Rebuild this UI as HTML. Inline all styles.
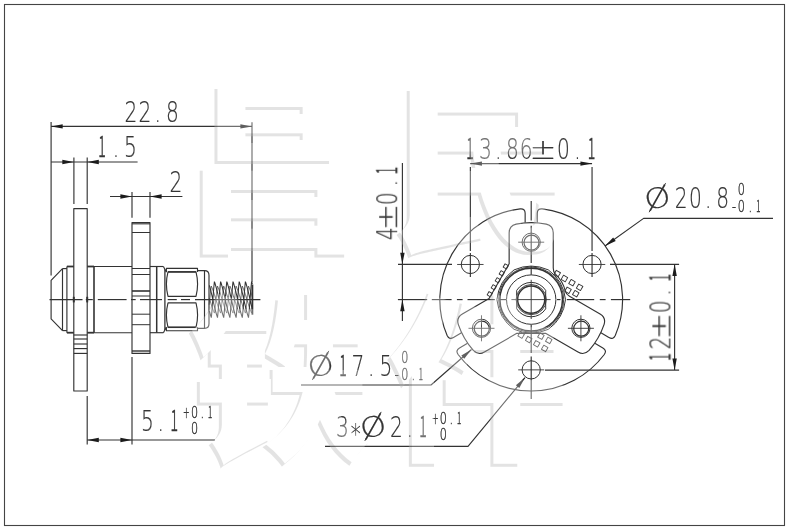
<!DOCTYPE html>
<html lang="zh"><head><meta charset="utf-8"><title>drawing</title>
<style>
html,body{margin:0;padding:0;background:#fff;}
body{width:790px;height:530px;overflow:hidden;}
svg{display:block;}
.t{font-kerning:none;}
.one{font-family:'Noto Sans CJK SC','Liberation Sans',sans-serif;font-weight:300;stroke-width:0.55px;}
</style></head><body>
<svg width="790" height="530" viewBox="0 0 790 530">
<rect x="0" y="0" width="790" height="530" fill="#fff"/>
<rect x="4.5" y="4.5" width="780" height="521" fill="none" stroke="#444" stroke-width="1.1"/>
<g fill="none" stroke="#333" stroke-linecap="butt" stroke-linejoin="round">
<line x1="51.10" y1="121.90" x2="51.10" y2="275.50" stroke-width="1.15" />
<line x1="252.00" y1="122.20" x2="252.00" y2="282.00" stroke-width="1.15" />
<line x1="51.10" y1="126.40" x2="252.00" y2="126.40" stroke-width="1.15" />
<polygon points="51.10,126.40 62.70,124.20 62.70,128.60" fill="#1c1c1c" stroke="none"/>
<polygon points="252.00,126.40 240.40,128.60 240.40,124.20" fill="#1c1c1c" stroke="none"/>
<line x1="73.90" y1="157.60" x2="73.90" y2="204.00" stroke-width="1.15" />
<line x1="87.20" y1="157.60" x2="87.20" y2="204.00" stroke-width="1.15" />
<line x1="51.10" y1="162.00" x2="137.60" y2="162.00" stroke-width="1.15" />
<polygon points="73.90,162.00 62.30,164.20 62.30,159.80" fill="#1c1c1c" stroke="none"/>
<polygon points="87.20,162.00 98.80,159.80 98.80,164.20" fill="#1c1c1c" stroke="none"/>
<line x1="132.00" y1="192.00" x2="132.00" y2="217.80" stroke-width="1.15" />
<line x1="150.00" y1="192.00" x2="150.00" y2="217.80" stroke-width="1.15" />
<line x1="110.00" y1="196.50" x2="182.40" y2="196.50" stroke-width="1.15" />
<polygon points="132.00,196.50 120.40,198.70 120.40,194.30" fill="#1c1c1c" stroke="none"/>
<polygon points="150.00,196.50 161.60,194.30 161.60,198.70" fill="#1c1c1c" stroke="none"/>
<path d="M73.8 391 V208.6 H87.2 V391 Z" stroke-width="1.15" />
<line x1="73.80" y1="335.00" x2="87.20" y2="335.00" stroke-width="1.15" />
<line x1="73.80" y1="339.00" x2="87.20" y2="339.00" stroke-width="1.15" />
<line x1="73.80" y1="344.00" x2="87.20" y2="344.00" stroke-width="1.15" />
<line x1="73.80" y1="348.60" x2="87.20" y2="348.60" stroke-width="1.15" />
<line x1="73.80" y1="353.40" x2="87.20" y2="353.40" stroke-width="1.15" />
<path d="M62.5 268.6 L51.1 280.3 V318.9 L62.5 330.6" stroke-width="1.15" />
<line x1="62.50" y1="268.60" x2="66.90" y2="268.60" stroke-width="1.15" />
<line x1="62.50" y1="330.60" x2="66.90" y2="330.60" stroke-width="1.15" />
<line x1="62.50" y1="268.60" x2="62.50" y2="330.60" stroke-width="1.15" />
<line x1="66.90" y1="266.50" x2="66.90" y2="332.70" stroke-width="1.15" />
<line x1="66.90" y1="266.50" x2="73.80" y2="266.50" stroke-width="1.8" />
<line x1="66.90" y1="332.70" x2="73.80" y2="332.70" stroke-width="1.8" />
<line x1="87.20" y1="266.50" x2="94.00" y2="266.50" stroke-width="1.8" />
<line x1="87.20" y1="332.70" x2="94.00" y2="332.70" stroke-width="1.8" />
<line x1="94.00" y1="266.50" x2="94.00" y2="332.70" stroke-width="1.6" />
<line x1="73.80" y1="296.80" x2="73.80" y2="302.40" stroke-width="2" />
<line x1="87.20" y1="296.80" x2="87.20" y2="302.40" stroke-width="2" />
<line x1="94.00" y1="266.50" x2="132.00" y2="266.50" stroke-width="1.15" />
<line x1="94.00" y1="332.70" x2="132.00" y2="332.70" stroke-width="1.15" />
<line x1="150.00" y1="266.50" x2="163.40" y2="266.50" stroke-width="1.15" />
<line x1="150.00" y1="332.70" x2="163.40" y2="332.70" stroke-width="1.15" />
<line x1="156.70" y1="266.50" x2="156.70" y2="332.70" stroke-width="1.5" />
<line x1="164.90" y1="269.30" x2="164.90" y2="329.90" stroke-width="1.3" />
<line x1="163.40" y1="266.50" x2="166.40" y2="272.20" stroke-width="1.15" />
<line x1="163.40" y1="332.70" x2="166.40" y2="327.00" stroke-width="1.15" />
<path d="M132 222.5 H150 V353.4 H132 Z" stroke-width="1.15" />
<line x1="132.00" y1="223.80" x2="150.00" y2="223.80" stroke-width="1.15" />
<line x1="132.00" y1="351.00" x2="150.00" y2="351.00" stroke-width="1.4" />
<line x1="132.00" y1="232.50" x2="150.00" y2="232.50" stroke-width="1" />
<line x1="132.00" y1="268.50" x2="150.00" y2="268.50" stroke-width="1" />
<line x1="132.00" y1="274.50" x2="150.00" y2="274.50" stroke-width="1" />
<line x1="132.00" y1="291.00" x2="150.00" y2="291.00" stroke-width="1.6" />
<line x1="132.00" y1="296.00" x2="150.00" y2="296.00" stroke-width="1" />
<line x1="132.00" y1="314.20" x2="150.00" y2="314.20" stroke-width="1" />
<line x1="132.00" y1="324.70" x2="150.00" y2="324.70" stroke-width="1" />
<path d="M166.4 272 V268.4 H197.5 V272" stroke-width="1.15" />
<path d="M166.4 327.2 V330.7 H197.5 V327.2" stroke-width="1.15" />
<path d="M168 271.9 H196 Q199.2 284.15 196 296.4 H168 Q164.8 284.15 168 271.9 Z" stroke-width="1.15" />
<path d="M168 302.8 H196 Q199.2 315.05 196 327.3 H168 Q164.8 315.05 168 302.8 Z" stroke-width="1.15" />
<line x1="168.00" y1="271.90" x2="196.00" y2="271.90" stroke-width="1.5" />
<line x1="168.00" y1="327.30" x2="196.00" y2="327.30" stroke-width="1.5" />
<path d="M197.6 270.6 H204.5 Q209 270.6 209 275.2 V323.8 Q209 328.4 204.5 328.4 H197.6" stroke-width="1.15" />
<line x1="204.50" y1="270.60" x2="204.50" y2="328.40" stroke-width="1.15" />
<path d="M209.36,311.05 L209.75,312.50 L210.14,313.88 L210.53,315.20 L210.91,316.44 L211.30,317.60 M209.36,285.32 L209.75,286.70 L210.14,288.15 L210.53,289.67 L210.91,291.24 L211.30,292.85 L211.69,294.50 L212.08,296.19 L212.46,297.89 L212.85,299.60 L213.24,301.31 L213.63,303.01 L214.01,304.70 L214.40,306.35 L214.79,307.96 L215.18,309.53 L215.56,311.05 L215.95,312.50 L216.34,313.88 L216.73,315.20 L217.11,316.44 L217.50,317.60 M214.40,281.60 L214.27,282.76 L214.14,284.00 L214.01,285.32 L213.88,286.70 L213.75,288.15 L213.62,289.67 L213.50,291.24 L213.37,292.85 L213.24,294.50 L213.11,296.19 L212.98,297.89 L212.85,299.60 L212.72,301.31 L212.59,303.01 L212.46,304.70 L212.33,306.35 L212.20,307.96 L212.08,309.53 L211.95,311.05 L211.82,312.50 L211.69,313.88 L211.56,315.20 L211.43,316.44 L211.30,317.60 M214.40,281.60 L214.79,282.76 L215.18,284.00 L215.56,285.32 L215.95,286.70 L216.34,288.15 L216.72,289.67 L217.11,291.24 L217.50,292.85 L217.89,294.50 L218.28,296.19 L218.66,297.89 L219.05,299.60 L219.44,301.31 L219.83,303.01 L220.21,304.70 L220.60,306.35 L220.99,307.96 L221.38,309.53 L221.76,311.05 L222.15,312.50 L222.54,313.88 L222.93,315.20 L223.31,316.44 L223.70,317.60 M220.60,281.60 L220.47,282.76 L220.34,284.00 L220.21,285.32 L220.08,286.70 L219.95,288.15 L219.82,289.67 L219.70,291.24 L219.57,292.85 L219.44,294.50 L219.31,296.19 L219.18,297.89 L219.05,299.60 L218.92,301.31 L218.79,303.01 L218.66,304.70 L218.53,306.35 L218.40,307.96 L218.28,309.53 L218.15,311.05 L218.02,312.50 L217.89,313.88 L217.76,315.20 L217.63,316.44 L217.50,317.60 M220.60,281.60 L220.99,282.76 L221.38,284.00 L221.76,285.32 L222.15,286.70 L222.54,288.15 L222.92,289.67 L223.31,291.24 L223.70,292.85 L224.09,294.50 L224.47,296.19 L224.86,297.89 L225.25,299.60 L225.64,301.31 L226.03,303.01 L226.41,304.70 L226.80,306.35 L227.19,307.96 L227.57,309.53 L227.96,311.05 L228.35,312.50 L228.74,313.88 L229.12,315.20 L229.51,316.44 L229.90,317.60 M226.80,281.60 L226.67,282.76 L226.54,284.00 L226.41,285.32 L226.28,286.70 L226.15,288.15 L226.03,289.67 L225.90,291.24 L225.77,292.85 L225.64,294.50 L225.51,296.19 L225.38,297.89 L225.25,299.60 L225.12,301.31 L224.99,303.01 L224.86,304.70 L224.73,306.35 L224.60,307.96 L224.48,309.53 L224.35,311.05 L224.22,312.50 L224.09,313.88 L223.96,315.20 L223.83,316.44 L223.70,317.60 M226.80,281.60 L227.19,282.76 L227.58,284.00 L227.96,285.32 L228.35,286.70 L228.74,288.15 L229.12,289.67 L229.51,291.24 L229.90,292.85 L230.29,294.50 L230.68,296.19 L231.06,297.89 L231.45,299.60 L231.84,301.31 L232.23,303.01 L232.61,304.70 L233.00,306.35 L233.39,307.96 L233.78,309.53 L234.16,311.05 L234.55,312.50 L234.94,313.88 L235.33,315.20 L235.71,316.44 L236.10,317.60 M233.00,281.60 L232.87,282.76 L232.74,284.00 L232.61,285.32 L232.48,286.70 L232.35,288.15 L232.22,289.67 L232.10,291.24 L231.97,292.85 L231.84,294.50 L231.71,296.19 L231.58,297.89 L231.45,299.60 L231.32,301.31 L231.19,303.01 L231.06,304.70 L230.93,306.35 L230.80,307.96 L230.68,309.53 L230.55,311.05 L230.42,312.50 L230.29,313.88 L230.16,315.20 L230.03,316.44 L229.90,317.60 M233.00,281.60 L233.39,282.76 L233.78,284.00 L234.16,285.32 L234.55,286.70 L234.94,288.15 L235.32,289.67 L235.71,291.24 L236.10,292.85 L236.49,294.50 L236.88,296.19 L237.26,297.89 L237.65,299.60 L238.04,301.31 L238.43,303.01 L238.81,304.70 L239.20,306.35 L239.59,307.96 L239.97,309.53 L240.36,311.05 L240.75,312.50 L241.14,313.88 L241.53,315.20 L241.91,316.44 L242.30,317.60 M239.20,281.60 L239.07,282.76 L238.94,284.00 L238.81,285.32 L238.68,286.70 L238.55,288.15 L238.43,289.67 L238.30,291.24 L238.17,292.85 L238.04,294.50 L237.91,296.19 L237.78,297.89 L237.65,299.60 L237.52,301.31 L237.39,303.01 L237.26,304.70 L237.13,306.35 L237.00,307.96 L236.88,309.53 L236.75,311.05 L236.62,312.50 L236.49,313.88 L236.36,315.20 L236.23,316.44 L236.10,317.60 M239.20,281.60 L239.59,282.76 L239.98,284.00 L240.36,285.32 L240.75,286.70 L241.14,288.15 L241.53,289.67 L241.91,291.24 L242.30,292.85 L242.69,294.50 L243.08,296.19 L243.46,297.89 L243.85,299.60 L244.24,301.31 L244.63,303.01 L245.01,304.70 L245.40,306.35 L245.79,307.96 L246.18,309.53 L246.56,311.05 L246.95,312.50 L247.34,313.88 L247.73,315.20 L248.11,316.44 L248.50,317.60 M245.40,281.60 L245.27,282.76 L245.14,284.00 L245.01,285.32 L244.88,286.70 L244.75,288.15 L244.62,289.67 L244.50,291.24 L244.37,292.85 L244.24,294.50 L244.11,296.19 L243.98,297.89 L243.85,299.60 L243.72,301.31 L243.59,303.01 L243.46,304.70 L243.33,306.35 L243.20,307.96 L243.08,309.53 L242.95,311.05 L242.82,312.50 L242.69,313.88 L242.56,315.20 L242.43,316.44 L242.30,317.60 M245.40,281.60 L245.79,282.76 L246.18,284.00 L246.56,285.32 L246.95,286.70 L247.34,288.15 L247.72,289.67 L248.11,291.24 L248.50,292.85 L248.89,294.50 L249.28,296.19 L249.66,297.89 L250.05,299.60 L250.44,301.31 L250.83,303.01 L251.21,304.70 L251.60,306.35 L251.99,307.96 L252.38,309.53 M251.60,281.60 L251.47,282.76 L251.34,284.00 L251.21,285.32 L251.08,286.70 L250.95,288.15 L250.83,289.67 L250.70,291.24 L250.57,292.85 L250.44,294.50 L250.31,296.19 L250.18,297.89 L250.05,299.60 L249.92,301.31 L249.79,303.01 L249.66,304.70 L249.53,306.35 L249.40,307.96 L249.28,309.53 L249.15,311.05 L249.02,312.50 L248.89,313.88 L248.76,315.20 L248.63,316.44 L248.50,317.60 M251.60,281.60 L251.99,282.76 L252.38,284.00 " stroke-width="1.05" />
<path d="M209.36,298.32 L209.75,299.60 L210.14,300.88 L210.53,302.16 L210.91,303.42 L211.30,304.66 L211.69,305.87 L212.07,307.05 L212.46,308.18 L212.85,309.27 L213.24,310.31 L213.62,311.30 L214.01,312.23 L214.40,313.10 M211.30,286.10 L211.17,286.97 L211.04,287.90 L210.91,288.89 L210.78,289.93 L210.65,291.02 L210.53,292.15 L210.40,293.33 L210.27,294.54 L210.14,295.78 L210.01,297.04 L209.88,298.32 L209.75,299.60 L209.62,300.88 L209.49,302.16 L209.36,303.42 L209.23,304.66 M211.30,286.10 L211.69,286.97 L212.08,287.90 L212.46,288.89 L212.85,289.93 L213.24,291.02 L213.62,292.15 L214.01,293.33 L214.40,294.54 L214.79,295.78 L215.18,297.04 L215.56,298.32 L215.95,299.60 L216.34,300.88 L216.73,302.16 L217.11,303.42 L217.50,304.66 L217.89,305.87 L218.28,307.05 L218.66,308.18 L219.05,309.27 L219.44,310.31 L219.83,311.30 L220.21,312.23 L220.60,313.10 M217.50,286.10 L217.37,286.97 L217.24,287.90 L217.11,288.89 L216.98,289.93 L216.85,291.02 L216.72,292.15 L216.60,293.33 L216.47,294.54 L216.34,295.78 L216.21,297.04 L216.08,298.32 L215.95,299.60 L215.82,300.88 L215.69,302.16 L215.56,303.42 L215.43,304.66 L215.30,305.87 L215.18,307.05 L215.05,308.18 L214.92,309.27 L214.79,310.31 L214.66,311.30 L214.53,312.23 L214.40,313.10 M217.50,286.10 L217.89,286.97 L218.28,287.90 L218.66,288.89 L219.05,289.93 L219.44,291.02 L219.82,292.15 L220.21,293.33 L220.60,294.54 L220.99,295.78 L221.38,297.04 L221.76,298.32 L222.15,299.60 L222.54,300.88 L222.93,302.16 L223.31,303.42 L223.70,304.66 L224.09,305.87 L224.47,307.05 L224.86,308.18 L225.25,309.27 L225.64,310.31 L226.03,311.30 L226.41,312.23 L226.80,313.10 M223.70,286.10 L223.57,286.97 L223.44,287.90 L223.31,288.89 L223.18,289.93 L223.05,291.02 L222.92,292.15 L222.80,293.33 L222.67,294.54 L222.54,295.78 L222.41,297.04 L222.28,298.32 L222.15,299.60 L222.02,300.88 L221.89,302.16 L221.76,303.42 L221.63,304.66 L221.50,305.87 L221.38,307.05 L221.25,308.18 L221.12,309.27 L220.99,310.31 L220.86,311.30 L220.73,312.23 L220.60,313.10 M223.70,286.10 L224.09,286.97 L224.47,287.90 L224.86,288.89 L225.25,289.93 L225.64,291.02 L226.02,292.15 L226.41,293.33 L226.80,294.54 L227.19,295.78 L227.57,297.04 L227.96,298.32 L228.35,299.60 L228.74,300.88 L229.12,302.16 L229.51,303.42 L229.90,304.66 L230.29,305.87 L230.67,307.05 L231.06,308.18 L231.45,309.27 L231.84,310.31 L232.22,311.30 L232.61,312.23 L233.00,313.10 M229.90,286.10 L229.77,286.97 L229.64,287.90 L229.51,288.89 L229.38,289.93 L229.25,291.02 L229.12,292.15 L229.00,293.33 L228.87,294.54 L228.74,295.78 L228.61,297.04 L228.48,298.32 L228.35,299.60 L228.22,300.88 L228.09,302.16 L227.96,303.42 L227.83,304.66 L227.70,305.87 L227.58,307.05 L227.45,308.18 L227.32,309.27 L227.19,310.31 L227.06,311.30 L226.93,312.23 L226.80,313.10 M229.90,286.10 L230.29,286.97 L230.68,287.90 L231.06,288.89 L231.45,289.93 L231.84,291.02 L232.22,292.15 L232.61,293.33 L233.00,294.54 L233.39,295.78 L233.78,297.04 L234.16,298.32 L234.55,299.60 L234.94,300.88 L235.33,302.16 L235.71,303.42 L236.10,304.66 L236.49,305.87 L236.88,307.05 L237.26,308.18 L237.65,309.27 L238.04,310.31 L238.43,311.30 L238.81,312.23 L239.20,313.10 M236.10,286.10 L235.97,286.97 L235.84,287.90 L235.71,288.89 L235.58,289.93 L235.45,291.02 L235.32,292.15 L235.20,293.33 L235.07,294.54 L234.94,295.78 L234.81,297.04 L234.68,298.32 L234.55,299.60 L234.42,300.88 L234.29,302.16 L234.16,303.42 L234.03,304.66 L233.90,305.87 L233.78,307.05 L233.65,308.18 L233.52,309.27 L233.39,310.31 L233.26,311.30 L233.13,312.23 L233.00,313.10 M236.10,286.10 L236.49,286.97 L236.88,287.90 L237.26,288.89 L237.65,289.93 L238.04,291.02 L238.42,292.15 L238.81,293.33 L239.20,294.54 L239.59,295.78 L239.97,297.04 L240.36,298.32 L240.75,299.60 L241.14,300.88 L241.53,302.16 L241.91,303.42 L242.30,304.66 L242.69,305.87 L243.07,307.05 L243.46,308.18 L243.85,309.27 L244.24,310.31 L244.62,311.30 L245.01,312.23 L245.40,313.10 M242.30,286.10 L242.17,286.97 L242.04,287.90 L241.91,288.89 L241.78,289.93 L241.65,291.02 L241.53,292.15 L241.40,293.33 L241.27,294.54 L241.14,295.78 L241.01,297.04 L240.88,298.32 L240.75,299.60 L240.62,300.88 L240.49,302.16 L240.36,303.42 L240.23,304.66 L240.10,305.87 L239.98,307.05 L239.85,308.18 L239.72,309.27 L239.59,310.31 L239.46,311.30 L239.33,312.23 L239.20,313.10 M242.30,286.10 L242.69,286.97 L243.08,287.90 L243.46,288.89 L243.85,289.93 L244.24,291.02 L244.62,292.15 L245.01,293.33 L245.40,294.54 L245.79,295.78 L246.18,297.04 L246.56,298.32 L246.95,299.60 L247.34,300.88 L247.73,302.16 L248.11,303.42 L248.50,304.66 L248.89,305.87 L249.28,307.05 L249.66,308.18 L250.05,309.27 L250.44,310.31 L250.83,311.30 L251.21,312.23 L251.60,313.10 M248.50,286.10 L248.37,286.97 L248.24,287.90 L248.11,288.89 L247.98,289.93 L247.85,291.02 L247.72,292.15 L247.60,293.33 L247.47,294.54 L247.34,295.78 L247.21,297.04 L247.08,298.32 L246.95,299.60 L246.82,300.88 L246.69,302.16 L246.56,303.42 L246.43,304.66 L246.30,305.87 L246.18,307.05 L246.05,308.18 L245.92,309.27 L245.79,310.31 L245.66,311.30 L245.53,312.23 L245.40,313.10 M248.50,286.10 L248.89,286.97 L249.28,287.90 L249.66,288.89 L250.05,289.93 L250.44,291.02 L250.82,292.15 L251.21,293.33 L251.60,294.54 L251.99,295.78 L252.38,297.04 M252.38,307.05 L252.25,308.18 L252.12,309.27 L251.99,310.31 L251.86,311.30 L251.73,312.23 L251.60,313.10 " stroke-width="0.7" />
<line x1="252.40" y1="284.50" x2="252.40" y2="314.70" stroke-width="1.8" />
<line x1="49.50" y1="299.60" x2="82.50" y2="299.60" stroke-width="1.15" />
<line x1="85.80" y1="299.60" x2="92.80" y2="299.60" stroke-width="1.15" />
<line x1="97.80" y1="299.60" x2="126.60" y2="299.60" stroke-width="1.15" />
<line x1="131.00" y1="299.60" x2="135.70" y2="299.60" stroke-width="1.15" />
<line x1="140.00" y1="299.60" x2="162.00" y2="299.60" stroke-width="1.15" />
<line x1="167.70" y1="299.60" x2="176.80" y2="299.60" stroke-width="1.15" />
<line x1="181.00" y1="299.60" x2="190.00" y2="299.60" stroke-width="1.15" />
<line x1="195.00" y1="299.60" x2="260.40" y2="299.60" stroke-width="1.15" />
<line x1="87.20" y1="396.00" x2="87.20" y2="444.60" stroke-width="1.15" />
<line x1="132.00" y1="357.00" x2="132.00" y2="444.60" stroke-width="1.15" />
<line x1="87.20" y1="440.00" x2="215.00" y2="440.00" stroke-width="1.15" />
<polygon points="87.20,440.00 98.80,437.80 98.80,442.20" fill="#1c1c1c" stroke="none"/>
<polygon points="132.00,440.00 120.40,442.20 120.40,437.80" fill="#1c1c1c" stroke="none"/>
<path d="M537.25 222.60 L537.25 213.35 Q537.25 208.40 542.18 208.86 A91.4 91.4 0 0 1 615.27 335.46 Q613.21 339.96 608.92 337.49 L600.91 332.86" stroke-width="1.15" />
<path d="M461.49 332.86 L453.48 337.49 Q449.19 339.96 447.13 335.46 A91.4 91.4 0 0 1 520.22 208.86 Q525.15 208.40 525.15 213.35 L525.15 222.60" stroke-width="1.15" />
<path d="M594.86 343.34 L602.87 347.96 Q607.16 350.44 604.29 354.48 A91.4 91.4 0 0 1 458.11 354.48 Q455.24 350.44 459.53 347.96 L467.54 343.34" stroke-width="1.15" />
<path d="M509.15 263.70 L509.15 232.82 Q509.15 225.82 516.15 224.09 A77.0 77.0 0 0 1 546.25 224.09 Q553.25 225.82 553.25 232.82 L553.25 268.10 Q553.25 272.03 555.21 273.86 A35.2 35.2 0 0 1 565.50 291.68 Q566.10 294.29 569.50 296.25 L569.50 296.25 L600.05 313.89 Q606.12 317.39 604.12 324.32 A77.0 77.0 0 0 1 589.07 350.39 Q584.07 355.58 578.00 352.08 L545.55 333.35 L516.85 333.35 L484.40 352.08 Q478.33 355.58 473.33 350.39 A77.0 77.0 0 0 1 458.28 324.32 Q456.28 317.39 462.35 313.89 L489.08 298.45 Z" stroke-width="1.15" />
<rect x="-1.9" y="-1.9" width="3.8" height="3.8" transform="translate(505.76,266.38) rotate(30)" stroke-width="0.9"/>
<rect x="-1.9" y="-1.9" width="3.8" height="3.8" transform="translate(501.74,273.33) rotate(30)" stroke-width="0.9"/>
<rect x="-1.9" y="-1.9" width="3.8" height="3.8" transform="translate(497.73,280.28) rotate(30)" stroke-width="0.9"/>
<rect x="-1.9" y="-1.9" width="3.8" height="3.8" transform="translate(493.72,287.23) rotate(30)" stroke-width="0.9"/>
<rect x="-1.9" y="-1.9" width="3.8" height="3.8" transform="translate(489.71,294.18) rotate(30)" stroke-width="0.9"/>
<circle cx="531.20" cy="242.20" r="9.10" stroke-width="1" />
<circle cx="531.50" cy="242.60" r="7.50" stroke-width="1.2" />
<line x1="518.20" y1="242.20" x2="544.20" y2="242.20" stroke-width="0.9" />
<circle cx="481.49" cy="328.30" r="9.10" stroke-width="1" />
<circle cx="481.79" cy="328.70" r="7.50" stroke-width="1.2" />
<line x1="468.49" y1="328.30" x2="494.49" y2="328.30" stroke-width="0.9" />
<line x1="481.49" y1="315.30" x2="481.49" y2="341.30" stroke-width="0.9" />
<circle cx="580.91" cy="328.30" r="9.10" stroke-width="1" />
<circle cx="581.21" cy="328.70" r="7.50" stroke-width="1.2" />
<line x1="567.91" y1="328.30" x2="593.91" y2="328.30" stroke-width="0.9" />
<line x1="580.91" y1="315.30" x2="580.91" y2="341.30" stroke-width="0.9" />
<circle cx="470.35" cy="264.47" r="9.10" stroke-width="1" />
<line x1="457.15" y1="264.47" x2="483.55" y2="264.47" stroke-width="0.9" />
<circle cx="592.05" cy="264.47" r="9.10" stroke-width="1" />
<line x1="578.85" y1="264.47" x2="605.25" y2="264.47" stroke-width="0.9" />
<circle cx="531.20" cy="369.86" r="9.10" stroke-width="1" />
<line x1="518.20" y1="369.86" x2="544.20" y2="369.86" stroke-width="0.9" />
<path d="M565.50 299.60 A42 42 0 0 0 548.35 269.90 A42 42 0 0 0 514.05 269.90 A42 42 0 0 0 496.90 299.60 A42 42 0 0 0 514.05 329.30 A42 42 0 0 0 548.35 329.30 A42 42 0 0 0 565.50 299.60 " stroke-width="1" />
<circle cx="531.20" cy="299.60" r="32.50" stroke-width="0.9" />
<circle cx="531.20" cy="299.60" r="31.30" stroke-width="1.5" />
<circle cx="531.20" cy="299.60" r="24.70" stroke-width="1" />
<path d="M516.70 308.85 V290.35 A17.2 17.2 0 0 1 545.70 290.35 V308.85 A17.2 17.2 0 0 1 516.70 308.85 Z" stroke-width="1" />
<circle cx="531.20" cy="299.60" r="15.10" stroke-width="0.9" />
<circle cx="531.20" cy="299.60" r="13.60" stroke-width="1.5" />
<line x1="511.40" y1="299.60" x2="550.60" y2="299.60" stroke-width="0.9" />
<line x1="531.20" y1="279.80" x2="531.20" y2="319.00" stroke-width="0.9" />
<line x1="397.90" y1="299.60" x2="427.20" y2="299.60" stroke-width="1.15" />
<line x1="431.80" y1="299.60" x2="451.60" y2="299.60" stroke-width="1.15" />
<line x1="456.90" y1="299.60" x2="462.60" y2="299.60" stroke-width="1.15" />
<line x1="467.50" y1="299.60" x2="494.90" y2="299.60" stroke-width="1.15" />
<line x1="500.00" y1="299.60" x2="506.00" y2="299.60" stroke-width="1.15" />
<line x1="557.00" y1="299.60" x2="560.50" y2="299.60" stroke-width="1.15" />
<line x1="566.80" y1="299.60" x2="594.20" y2="299.60" stroke-width="1.15" />
<line x1="599.80" y1="299.60" x2="605.60" y2="299.60" stroke-width="1.15" />
<line x1="610.90" y1="299.60" x2="630.20" y2="299.60" stroke-width="1.15" />
<line x1="531.20" y1="201.00" x2="531.20" y2="220.50" stroke-width="1.15" />
<line x1="531.20" y1="225.80" x2="531.20" y2="263.00" stroke-width="1.15" />
<line x1="531.20" y1="266.00" x2="531.20" y2="274.80" stroke-width="1.15" />
<line x1="531.20" y1="324.80" x2="531.20" y2="353.00" stroke-width="1.15" />
<line x1="531.20" y1="356.50" x2="531.20" y2="399.00" stroke-width="1.15" />
<rect x="-2.40" y="-2.40" width="4.8" height="4.8" transform="translate(557.20,273.60) rotate(30)" stroke-width="0.9"/>
<rect x="-2.40" y="-2.40" width="4.8" height="4.8" transform="translate(564.40,278.50) rotate(30)" stroke-width="0.9"/>
<rect x="-2.40" y="-2.40" width="4.8" height="4.8" transform="translate(572.00,282.70) rotate(30)" stroke-width="0.9"/>
<rect x="-2.40" y="-2.40" width="4.8" height="4.8" transform="translate(579.60,287.30) rotate(30)" stroke-width="0.9"/>
<rect x="-2.40" y="-2.40" width="4.8" height="4.8" transform="translate(568.00,290.30) rotate(30)" stroke-width="0.9"/>
<rect x="-2.40" y="-2.40" width="4.8" height="4.8" transform="translate(575.80,293.70) rotate(30)" stroke-width="0.9"/>
<rect x="-2.40" y="-2.40" width="4.8" height="4.8" transform="translate(521.10,335.10) rotate(30)" stroke-width="0.9"/>
<rect x="-2.40" y="-2.40" width="4.8" height="4.8" transform="translate(528.70,339.60) rotate(30)" stroke-width="0.9"/>
<rect x="-2.40" y="-2.40" width="4.8" height="4.8" transform="translate(536.70,343.80) rotate(30)" stroke-width="0.9"/>
<rect x="-2.40" y="-2.40" width="4.8" height="4.8" transform="translate(544.70,348.40) rotate(30)" stroke-width="0.9"/>
<rect x="-2.40" y="-2.40" width="4.8" height="4.8" transform="translate(540.90,336.20) rotate(30)" stroke-width="0.9"/>
<rect x="-2.40" y="-2.40" width="4.8" height="4.8" transform="translate(548.80,340.40) rotate(30)" stroke-width="0.9"/>
<line x1="470.35" y1="167.00" x2="470.35" y2="251.00" stroke-width="1.15" />
<line x1="470.35" y1="253.00" x2="470.35" y2="277.00" stroke-width="1.15" />
<line x1="592.05" y1="167.00" x2="592.05" y2="251.00" stroke-width="1.15" />
<line x1="592.05" y1="253.00" x2="592.05" y2="277.00" stroke-width="1.15" />
<line x1="470.35" y1="163.60" x2="592.05" y2="163.60" stroke-width="1.15" />
<polygon points="470.35,163.60 481.95,161.40 481.95,165.80" fill="#1c1c1c" stroke="none"/>
<polygon points="592.05,163.60 580.45,165.80 580.45,161.40" fill="#1c1c1c" stroke="none"/>
<line x1="398.00" y1="264.30" x2="452.00" y2="264.30" stroke-width="1.15" />
<line x1="402.40" y1="163.00" x2="402.40" y2="264.30" stroke-width="1.15" />
<line x1="402.40" y1="264.30" x2="402.40" y2="299.60" stroke-width="1.15" />
<line x1="402.40" y1="299.60" x2="402.40" y2="321.00" stroke-width="1.15" />
<polygon points="402.40,264.30 400.20,252.70 404.60,252.70" fill="#1c1c1c" stroke="none"/>
<polygon points="402.40,299.60 404.60,311.20 400.20,311.20" fill="#1c1c1c" stroke="none"/>
<line x1="610.00" y1="264.30" x2="679.10" y2="264.30" stroke-width="1.15" />
<line x1="545.00" y1="370.05" x2="679.10" y2="370.05" stroke-width="1.15" />
<line x1="674.60" y1="264.30" x2="674.60" y2="370.00" stroke-width="1.15" />
<polygon points="674.60,264.30 676.80,275.90 672.40,275.90" fill="#1c1c1c" stroke="none"/>
<polygon points="674.60,370.05 672.40,358.45 676.80,358.45" fill="#1c1c1c" stroke="none"/>
<path d="M773 218.4 H643.6 L605 246" stroke-width="1.15" />
<polygon points="605.00,246.00 613.16,237.46 615.72,241.04" fill="#1c1c1c" stroke="none"/>
<path d="M301 385 H431 L471.5 349.5" stroke-width="1.15" />
<polygon points="471.50,349.50 464.23,358.80 461.33,355.49" fill="#1c1c1c" stroke="none"/>
<path d="M325 446.4 H468 L525 377.6" stroke-width="1.15" />
<polygon points="525.00,377.60 519.29,387.94 515.91,385.13" fill="#1c1c1c" stroke="none"/>
<line x1="649.20" y1="212.20" x2="665.60" y2="183.20" stroke-width="1" />
<line x1="312.40" y1="379.90" x2="328.80" y2="350.90" stroke-width="1" />
<line x1="364.80" y1="440.90" x2="381.20" y2="411.90" stroke-width="1" />
</g>
<g opacity="0.99" fill="#333" stroke="#333" font-family="'DejaVu Sans Light','DejaVu Sans','Liberation Sans',sans-serif" font-weight="200">
<text transform="translate(0,122.00) scale(0.72,1)" x="181.67 201.39 218.89 239.31" y="0.00 0.00 0.00 0.00" font-size="28" text-anchor="middle" class="t" stroke-width="0.2">22.8</text>
<text transform="translate(0,157.40) scale(0.72,1)" x="141.81 161.11 181.25" y="0.00 0.00 0.00" font-size="28" text-anchor="middle" class="t" stroke-width="0.2"><tspan class="one" textLength="10.40" lengthAdjust="spacingAndGlyphs">1</tspan>.5</text>
<text transform="translate(0,191.80) scale(0.72,1)" x="244.17" y="0.00" font-size="28" text-anchor="middle" class="t" stroke-width="0.2">2</text>
<text transform="translate(0,430.80) scale(0.72,1)" x="204.86 223.06 242.08" y="0.00 0.00 0.00" font-size="28" text-anchor="middle" class="t" stroke-width="0.2">5.<tspan class="one" textLength="10.40" lengthAdjust="spacingAndGlyphs">1</tspan></text>
<text transform="translate(0,418.00) scale(0.72,1)" x="258.61 270.28 281.11 291.81" y="0.00 0.00 0.00 0.00" font-size="15.5" text-anchor="middle" class="t" stroke-width="0.45"><tspan textLength="9.09" lengthAdjust="spacingAndGlyphs">+</tspan>0.<tspan class="one" textLength="5.75" lengthAdjust="spacingAndGlyphs">1</tspan></text>
<text transform="translate(0,434.00) scale(0.72,1)" x="270.28" y="0.00" font-size="15.5" text-anchor="middle" class="t" stroke-width="0.45">0</text>
<text transform="translate(0,159.20) scale(0.72,1)" x="652.64 674.31 692.08 711.81 730.69 754.31 782.64 802.08 821.67" y="0.00 0.00 0.00 0.00 0.00 0.00 0.00 0.00 0.00" font-size="28" text-anchor="middle" class="t" stroke-width="0.2"><tspan class="one" textLength="10.40" lengthAdjust="spacingAndGlyphs">1</tspan>3.86<tspan textLength="37.54" lengthAdjust="spacingAndGlyphs">±</tspan>0.<tspan class="one" textLength="10.40" lengthAdjust="spacingAndGlyphs">1</tspan></text>
<text transform="translate(657.40,197.70) rotate(-16) scale(1.2,1)" x="0" y="10.1" font-size="27.8" text-anchor="middle" stroke-width="0.2">Ø</text>
<text transform="translate(0,208.40) scale(0.72,1)" x="945.97 965.69 983.75 1003.75" y="0.00 0.00 0.00 0.00" font-size="28" text-anchor="middle" class="t" stroke-width="0.2">20.8</text>
<text transform="translate(0,194.70) scale(0.72,1)" x="1029.72" y="0.00" font-size="15.5" text-anchor="middle" class="t" stroke-width="0.45">0</text>
<text transform="translate(0,211.70) scale(0.72,1)" x="1019.44 1029.72 1042.08 1053.06" y="0.00 0.00 0.00 0.00" font-size="15.5" text-anchor="middle" class="t" stroke-width="0.45">-0.<tspan class="one" textLength="5.75" lengthAdjust="spacingAndGlyphs">1</tspan></text>
<text transform="translate(320.60,365.40) rotate(-16) scale(1.2,1)" x="0" y="10.1" font-size="27.8" text-anchor="middle" stroke-width="0.2">Ø</text>
<text transform="translate(0,375.80) scale(0.72,1)" x="476.39 497.08 515.42 536.11" y="0.00 0.00 0.00 0.00" font-size="28" text-anchor="middle" class="t" stroke-width="0.2"><tspan class="one" textLength="10.40" lengthAdjust="spacingAndGlyphs">1</tspan>7.5</text>
<text transform="translate(0,362.60) scale(0.72,1)" x="562.08" y="0.00" font-size="15.5" text-anchor="middle" class="t" stroke-width="0.45">0</text>
<text transform="translate(0,379.70) scale(0.72,1)" x="551.11 562.08 573.89 584.44" y="0.00 0.00 0.00 0.00" font-size="15.5" text-anchor="middle" class="t" stroke-width="0.45">-0.<tspan class="one" textLength="5.75" lengthAdjust="spacingAndGlyphs">1</tspan></text>
<text transform="translate(0,436.90) scale(0.72,1)" x="475.56 494.03" y="0.00 7.00" font-size="28" text-anchor="middle" class="t" stroke-width="0.2">3*</text>
<text transform="translate(373.00,426.40) rotate(-16) scale(1.2,1)" x="0" y="10.1" font-size="27.8" text-anchor="middle" stroke-width="0.2">Ø</text>
<text transform="translate(0,436.90) scale(0.72,1)" x="550.69 569.03 587.50" y="0.00 0.00 0.00" font-size="28" text-anchor="middle" class="t" stroke-width="0.2">2.<tspan class="one" textLength="10.40" lengthAdjust="spacingAndGlyphs">1</tspan></text>
<text transform="translate(0,424.40) scale(0.72,1)" x="604.44 615.83 626.94 637.64" y="0.00 0.00 0.00 0.00" font-size="15.5" text-anchor="middle" class="t" stroke-width="0.45"><tspan textLength="9.09" lengthAdjust="spacingAndGlyphs">+</tspan>0.<tspan class="one" textLength="5.75" lengthAdjust="spacingAndGlyphs">1</tspan></text>
<text transform="translate(0,440.30) scale(0.72,1)" x="615.83" y="0.00" font-size="15.5" text-anchor="middle" class="t" stroke-width="0.45">0</text>
<text transform="translate(670.40,356.60) rotate(-90) scale(0.72,1)" x="-0.83 18.89 42.50 69.44 89.17 109.72" y="0.00 0.00 0.00 0.00 0.00 0.00" font-size="28" text-anchor="middle" class="t" stroke-width="0.2"><tspan class="one" textLength="10.40" lengthAdjust="spacingAndGlyphs">1</tspan>2<tspan textLength="37.07" lengthAdjust="spacingAndGlyphs">±</tspan>0.<tspan class="one" textLength="10.40" lengthAdjust="spacingAndGlyphs">1</tspan></text>
<text transform="translate(397.20,233.60) rotate(-90) scale(0.72,1)" x="0.00 23.06 48.61 70.28 87.50" y="0.00 0.00 0.00 0.00 0.00" font-size="28" text-anchor="middle" class="t" stroke-width="0.2">4<tspan textLength="37.07" lengthAdjust="spacingAndGlyphs">±</tspan>0.<tspan class="one" textLength="10.40" lengthAdjust="spacingAndGlyphs">1</tspan></text>
</g>
<defs><filter id="em" x="-5%" y="-5%" width="110%" height="110%" color-interpolation-filters="sRGB"><feOffset in="SourceAlpha" dx="2.6" dy="-2.6" result="o"/><feComposite in="SourceAlpha" in2="o" operator="out" result="band"/><feGaussianBlur in="band" stdDeviation="0.6" result="bb"/><feFlood flood-color="#000" flood-opacity="0.11"/><feComposite in2="bb" operator="in" result="shade"/><feFlood flood-color="#fff" flood-opacity="0.3"/><feComposite in2="SourceAlpha" operator="in" result="veil"/><feMerge><feMergeNode in="veil"/><feMergeNode in="shade"/></feMerge></filter></defs>
<g font-family="'Liberation Sans','Noto Sans CJK SC',sans-serif" font-weight="900" font-size="182" fill="#fff" filter="url(#em)">
<text x="180.4 387.6" y="239.3">昌民</text>
<text x="187.3 385.3" y="449.3">铁件</text>
</g>
</svg>
</body></html>
